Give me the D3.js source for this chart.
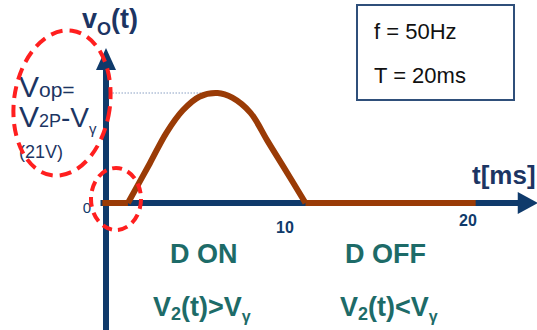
<!DOCTYPE html>
<html><head><meta charset="utf-8">
<script src="https://cdn.jsdelivr.net/npm/d3@7/dist/d3.min.js"></script>
<style>body{margin:0;background:#fff}svg{display:block}text{font-family:"Liberation Sans",Arial,sans-serif}</style>
</head><body><svg id="c" width="537" height="330"></svg>
<script>
// data
const flatOnMs = [-0.2, 1.2];
const humpMs = [1.2, 2.4, 3.3, 4.2, 5.1, 6.1, 6.9, 7.9, 8.8, 9.7, 10.9];
const humpV  = [0, 7.6, 13.4, 17.7, 20.3, 21, 20.1, 17.2, 12.0, 6.9, 0];
const flatOffMs = [10.9, 20.2];
const xTickVals = [10, 20];
const xTickLabels = ["10", "20"];
const yTickVals = [0];
const yTickLabels = ["0"];
const peakV = 21;

const svg = d3.select("#c");
const x = d3.scaleLinear().domain([0, 20]).range([106, 472]);
const y = d3.scaleLinear().domain([0, 21]).range([203, 93]);
const navy = "#0f3a6b", brown = "#9a3b06", red = "#ff1f1f", teal = "#1d6b68", txt = "#1c3563";

// dotted peak line
svg.append("line").attr("x1", x(0.2)).attr("x2", x(5.2)).attr("y1", y(peakV)).attr("y2", y(peakV))
  .attr("stroke", "#4d6fa3").attr("stroke-width", 1).attr("stroke-dasharray", "1,2");

// axes
svg.append("line").attr("x1", x(0)).attr("x2", x(0)).attr("y1", 330).attr("y2", y(27))
  .attr("stroke", navy).attr("stroke-width", 6);
svg.append("path").attr("d", `M${x(0)-10},${y(25.4)} L${x(0)},${y(29.6)} L${x(0)+10},${y(25.4)} Z`).attr("fill", navy);
svg.append("line").attr("x1", x(-0.3)).attr("x2", x(22.8)).attr("y1", y(0)).attr("y2", y(0))
  .attr("stroke", navy).attr("stroke-width", 6);
svg.append("path").attr("d", `M${x(22.5)},${y(0)-11} L${x(23.6)},${y(0)} L${x(22.5)},${y(0)+11} Z`).attr("fill", navy);

// signal
const lin = d3.line().x(d => x(d[0])).y(d => y(d[1]));
svg.append("path").attr("d", lin(flatOnMs.map(t => [t, 0]))).attr("stroke", brown).attr("stroke-width", 6).attr("fill", "none");
svg.append("path").attr("d", lin(flatOffMs.map(t => [t, 0]))).attr("stroke", brown).attr("stroke-width", 6).attr("fill", "none");
const hump = d3.line().x(d => x(d[0])).y(d => y(d[1])).curve(d3.curveCatmullRom);
svg.append("path").attr("d", hump(humpMs.map((t, i) => [t, humpV[i]]))).attr("stroke", brown).attr("stroke-width", 6)
  .attr("fill", "none").attr("stroke-linejoin", "round");

// tick labels
const tickDy = [30, 23];
xTickVals.forEach((v, i) => svg.append("text").attr("x", x(v) - 4).attr("y", y(0) + tickDy[i])
  .attr("text-anchor", "middle").attr("font-size", 16).attr("font-weight", "bold").attr("fill", navy).text(xTickLabels[i]));
yTickVals.forEach((v, i) => svg.append("text").attr("x", x(0) - 19).attr("y", y(v) + 10)
  .attr("text-anchor", "middle").attr("font-size", 15).attr("fill", navy).text(yTickLabels[i]));

// axis titles
const vt = svg.append("text").attr("x", 82).attr("y", 28).attr("font-size", 27).attr("font-weight", "bold").attr("fill", txt);
vt.append("tspan").text("v");
vt.append("tspan").attr("font-size", 18).attr("dy", 7).text("O");
vt.append("tspan").attr("dy", -7).text("(t)");
svg.append("text").attr("x", 472).attr("y", 184).attr("font-size", 26).attr("font-weight", "bold").attr("fill", txt).text("t[ms]");

// Vop labels
const l1 = svg.append("text").attr("x", 19).attr("y", 97).attr("font-size", 30).attr("fill", txt);
l1.append("tspan").text("V");
l1.append("tspan").attr("font-size", 21).text("op=");
const l2 = svg.append("text").attr("x", 19).attr("y", 127).attr("font-size", 30).attr("fill", txt);
l2.append("tspan").text("V");
l2.append("tspan").attr("font-size", 18).text("2P");
l2.append("tspan").attr("font-size", 28).text("-V");
l2.append("tspan").attr("font-size", 15).attr("dy", 7).text("γ");
svg.append("text").attr("x", 19).attr("y", 158).attr("font-size", 18).attr("fill", txt).text("(21V)");

// red dashed ellipses
svg.append("ellipse").attr("cx", 62).attr("cy", 103).attr("rx", 48).attr("ry", 73)
  .attr("fill", "none").attr("stroke", red).attr("stroke-width", 4).attr("stroke-dasharray", "12,7")
  .attr("transform", "rotate(8,62,103)");
svg.append("ellipse").attr("cx", 116).attr("cy", 199).attr("rx", 25).attr("ry", 31)
  .attr("fill", "none").attr("stroke", red).attr("stroke-width", 4).attr("stroke-dasharray", "10,6");

// info box
svg.append("rect").attr("x", 357).attr("y", 5).attr("width", 157).attr("height", 95)
  .attr("fill", "#fff").attr("stroke", "#2f4f7a").attr("stroke-width", 2);
svg.append("text").attr("x", 374).attr("y", 39).attr("font-size", 22).attr("fill", "#111").text("f = 50Hz");
svg.append("text").attr("x", 374).attr("y", 83).attr("font-size", 22).attr("fill", "#111").text("T = 20ms");

// state labels
svg.append("text").attr("x", 170).attr("y", 263).attr("font-size", 27).attr("font-weight", "bold").attr("fill", teal).text("D ON");
svg.append("text").attr("x", 345).attr("y", 263).attr("font-size", 27).attr("font-weight", "bold").attr("fill", teal).text("D OFF");
function cond(xp, op) {
  const t = svg.append("text").attr("x", xp).attr("y", 316).attr("font-size", 27).attr("font-weight", "bold").attr("fill", teal);
  t.append("tspan").text("V");
  t.append("tspan").attr("font-size", 18).attr("dy", 4).text("2");
  t.append("tspan").attr("dy", -4).text("(t)" + op + "V");
  t.append("tspan").attr("font-size", 16).attr("dy", 6).text("γ");
}
cond(153, ">");
cond(340, "<");
</script></body></html>
